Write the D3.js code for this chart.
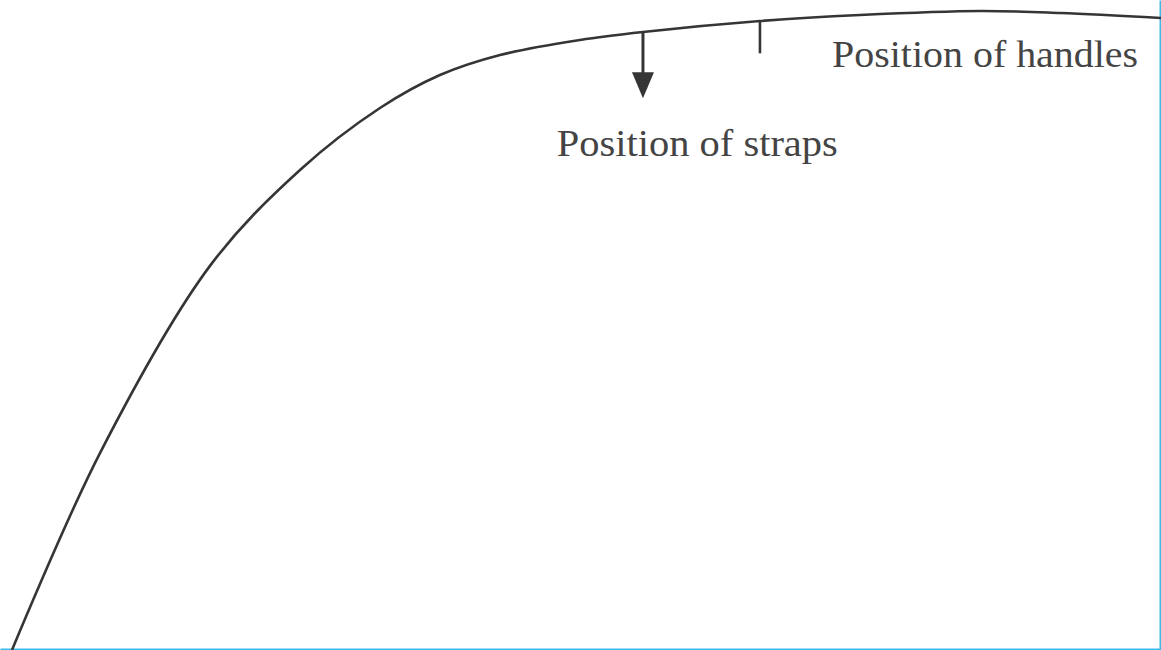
<!DOCTYPE html>
<html>
<head>
<meta charset="utf-8">
<script src="https://cdn.jsdelivr.net/npm/d3@7"></script>
<style>
  html, body { margin: 0; padding: 0; background: #fff; }
  svg { display: block; }
</style>
</head>
<body>
<svg id="chart" width="1161" height="650"></svg>
<script>
// Curve profile (abstract units: x 0..100 along, y 0..100 height)
const curveX = [0, 7.67, 17.26, 25.11, 32.08, 37.31, 42.55, 49.52, 55.01, 65.21, 73.93, 84.39, 91.37, 100.17];
const curveY = [0, 30.3, 59.1, 73.85, 83.38, 88.46, 91.54, 93.85, 95.08, 96.77, 97.69, 98.31, 98.0, 97.23];

// Annotations
const markerNames = ["straps", "handles"];
const markerX = [55.01, 65.21];
const markerTopY = [95.08, 96.77];
const markerBottomY = [84.9, 91.8];
const markerArrow = [true, false];

const labelTexts = ["Position of straps", "Position of handles"];
const labelX = [47.5, 71.5];
const labelY = [76.0, 89.7];
const labelWidths = [281, 306];

const W = 1161, H = 650;
const svg = d3.select("#chart");
const x = d3.scaleLinear().domain([0, 100]).range([12, 1159]);
const y = d3.scaleLinear().domain([0, 100]).range([650, 0]);

const ink = "#353535";

// frame lines (blue)
svg.append("g")
  .attr("transform", `translate(0,${H - 1})`)
  .call(d3.axisBottom(d3.scaleLinear().range([0, W])).ticks(0).tickSizeOuter(0))
  .call(g => g.select(".domain").attr("stroke", "#3cbbe9").attr("stroke-width", 2));
svg.append("g")
  .attr("transform", `translate(${W - 1},0)`)
  .call(d3.axisRight(d3.scaleLinear().range([0, H])).ticks(0).tickSizeOuter(0))
  .call(g => g.select(".domain").attr("stroke", "#3cbbe9").attr("stroke-width", 2));

// curve
const pts = curveX.map((d, i) => [d, curveY[i]]);
svg.append("path")
  .datum(pts)
  .attr("fill", "none")
  .attr("stroke", ink)
  .attr("stroke-width", 2.6)
  .attr("d", d3.line().x(d => x(d[0])).y(d => y(d[1])).curve(d3.curveCatmullRom.alpha(0.5)));

// markers
markerNames.forEach((n, i) => {
  const x0 = x(markerX[i]);
  const yTop = y(markerTopY[i]);
  const yBot = y(markerBottomY[i]);
  if (markerArrow[i]) {
    svg.append("line")
      .attr("x1", x0).attr("x2", x0)
      .attr("y1", yTop).attr("y2", yBot - 24)
      .attr("stroke", ink).attr("stroke-width", 3);
    svg.append("path")
      .attr("d", `M${x0 - 11},${yBot - 26} L${x0 + 11},${yBot - 26} L${x0},${yBot} Z`)
      .attr("fill", ink);
  } else {
    svg.append("line")
      .attr("x1", x0).attr("x2", x0)
      .attr("y1", yTop).attr("y2", yBot)
      .attr("stroke", ink).attr("stroke-width", 2.6);
  }
});

// labels
labelTexts.forEach((t, i) => {
  svg.append("text")
    .attr("x", x(labelX[i]))
    .attr("y", y(labelY[i]))
    .style("font-family", "'Liberation Serif', 'Times New Roman', serif")
    .attr("font-size", 37)
    .attr("fill", "#444")
    .attr("textLength", labelWidths[i])
    .attr("lengthAdjust", "spacingAndGlyphs")
    .text(t);
});
</script>
</body>
</html>
